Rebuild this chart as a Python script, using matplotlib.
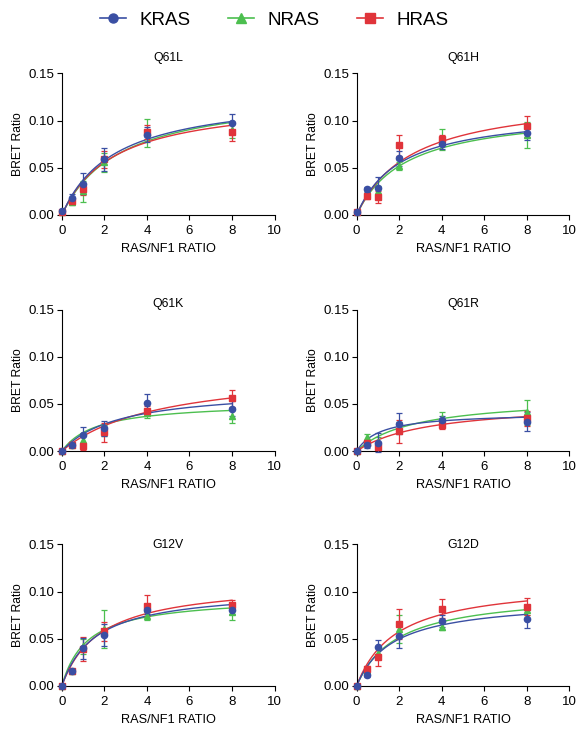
import numpy as np
import matplotlib
matplotlib.use("Agg")
import matplotlib.pyplot as plt
from matplotlib.lines import Line2D

plt.rcParams['font.family'] = ['Liberation Sans', 'DejaVu Sans']

# -------------------------
# Datos
# -------------------------
ratio = [0, 0.5, 1, 2, 4, 8]
paneles = ["Q61L", "Q61H", "Q61K", "Q61R", "G12V", "G12D"]

# medias por panel: KRAS, NRAS, HRAS
kras_media = [
    [0.004, 0.018, 0.033, 0.059, 0.085, 0.097],
    [0.003, 0.027, 0.029, 0.060, 0.075, 0.087],
    [0.000, 0.007, 0.017, 0.024, 0.051, 0.045],
    [0.000, 0.006, 0.009, 0.029, 0.033, 0.031],
    [0.000, 0.016, 0.040, 0.054, 0.081, 0.080],
    [0.000, 0.012, 0.041, 0.053, 0.069, 0.071],
]
kras_err = [
    [0.002, 0.004, 0.011, 0.012, 0.008, 0.010],
    [0.002, 0.003, 0.011, 0.008, 0.005, 0.008],
    [0.000, 0.003, 0.009, 0.008, 0.009, 0.008],
    [0.000, 0.003, 0.010, 0.011, 0.004, 0.010],
    [0.000, 0.002, 0.011, 0.012, 0.005, 0.004],
    [0.000, 0.002, 0.008, 0.013, 0.006, 0.010],
]
nras_media = [
    [0.003, 0.014, 0.025, 0.056, 0.087, 0.090],
    [0.003, 0.022, 0.025, 0.052, 0.080, 0.085],
    [0.000, 0.006, 0.012, 0.022, 0.040, 0.037],
    [0.000, 0.015, 0.010, 0.025, 0.035, 0.041],
    [0.000, 0.016, 0.042, 0.060, 0.074, 0.078],
    [0.000, 0.016, 0.035, 0.060, 0.063, 0.080],
]
nras_err = [
    [0.002, 0.003, 0.011, 0.010, 0.015, 0.008],
    [0.002, 0.003, 0.006, 0.004, 0.011, 0.014],
    [0.000, 0.002, 0.006, 0.006, 0.005, 0.007],
    [0.000, 0.003, 0.005, 0.006, 0.006, 0.013],
    [0.000, 0.002, 0.008, 0.020, 0.004, 0.008],
    [0.000, 0.002, 0.006, 0.015, 0.004, 0.005],
]
hras_media = [
    [0.003, 0.015, 0.027, 0.059, 0.088, 0.088],
    [0.003, 0.020, 0.019, 0.074, 0.080, 0.094],
    [0.000, 0.006, 0.005, 0.020, 0.043, 0.056],
    [0.000, 0.009, 0.004, 0.021, 0.028, 0.035],
    [0.000, 0.016, 0.039, 0.058, 0.085, 0.086],
    [0.000, 0.018, 0.031, 0.066, 0.082, 0.084],
]
hras_err = [
    [0.002, 0.003, 0.006, 0.009, 0.007, 0.010],
    [0.002, 0.003, 0.006, 0.011, 0.005, 0.011],
    [0.000, 0.002, 0.004, 0.010, 0.005, 0.009],
    [0.000, 0.002, 0.003, 0.012, 0.005, 0.008],
    [0.000, 0.002, 0.013, 0.010, 0.011, 0.005],
    [0.000, 0.003, 0.010, 0.016, 0.010, 0.009],
]

# parametros del ajuste hiperbolico (Bmax, Kd) por panel
kras_ajuste = [(0.130, 2.49), (0.111, 2.06), (0.067, 2.67), (0.041, 1.12), (0.103, 1.55), (0.092, 1.70)]
nras_ajuste = [(0.132, 2.76), (0.112, 2.32), (0.052, 1.64), (0.058, 2.74), (0.095, 1.19), (0.100, 1.89)]
hras_ajuste = [(0.124, 2.44), (0.128, 2.58), (0.089, 4.62), (0.052, 3.37), (0.111, 1.78), (0.111, 1.86)]

colores = {"KRAS": "#3a4fa3", "NRAS": "#4cbf4f", "HRAS": "#e0343a"}
marcadores = {"KRAS": "o", "NRAS": "^", "HRAS": "s"}

series = {
    "NRAS": (nras_media, nras_err, nras_ajuste),
    "HRAS": (hras_media, hras_err, hras_ajuste),
    "KRAS": (kras_media, kras_err, kras_ajuste),
}

# -------------------------
# Figura
# -------------------------
W, H = 578, 730
fig = plt.figure(figsize=(W / 100, H / 100), dpi=100)

izq = [0.107, 0.617]
abajo = [0.7055, 0.382, 0.0603]
ancho, alto = 0.368, 0.194
# altura (px desde arriba) del centro del titulo de cada fila
titulo_y = [58, 304, 545]

xs_fit = np.linspace(0, 8, 200)

for i, nombre in enumerate(paneles):
    fila, col = divmod(i, 2)
    ax = fig.add_axes([izq[col], abajo[fila], ancho, alto])
    for ras, (medias, errs, ajustes) in series.items():
        c = colores[ras]
        bmax, kd = ajustes[i]
        ax.plot(xs_fit, bmax * xs_fit / (kd + xs_fit), color=c, lw=1.0, zorder=2)
        ax.errorbar(ratio, medias[i], yerr=errs[i], fmt=marcadores[ras], color=c,
                    ms=4.5, elinewidth=0.9, capsize=2.5, capthick=0.9,
                    clip_on=False, zorder=3)
    ax.set_xlim(0, 10)
    ax.set_ylim(0, 0.15)
    ax.set_xticks([0, 2, 4, 6, 8, 10])
    ax.set_yticks([0, 0.05, 0.10, 0.15])
    ax.set_yticklabels(["0.00", "0.05", "0.10", "0.15"])
    ax.spines["top"].set_visible(False)
    ax.spines["right"].set_visible(False)
    ax.tick_params(labelsize=9.5, length=3.5, width=0.8)
    ax.tick_params(axis="x", pad=3.5)
    ax.tick_params(axis="y", pad=2)
    ax.set_xlabel("RAS/NF1 RATIO", fontsize=9.2, labelpad=4.5)
    ax.set_ylabel("BRET Ratio", fontsize=8.7, labelpad=3)
    x_centro = (izq[col] + ancho / 2)
    fig.text(x_centro, 1 - titulo_y[fila] / H, nombre, ha="center", va="center", fontsize=8.8)

# Leyenda
handles = [Line2D([0], [0], color=colores[r], marker=marcadores[r], ms=6.5, lw=1.2)
           for r in ["KRAS", "NRAS", "HRAS"]]
fig.legend(handles, ["KRAS", "NRAS", "HRAS"], loc="center", bbox_to_anchor=(0.475, 0.9726),
           ncol=3, frameon=False, fontsize=13.5, handlelength=1.35, columnspacing=2.0,
           handletextpad=0.75)

fig.savefig("out.png", dpi=100)
